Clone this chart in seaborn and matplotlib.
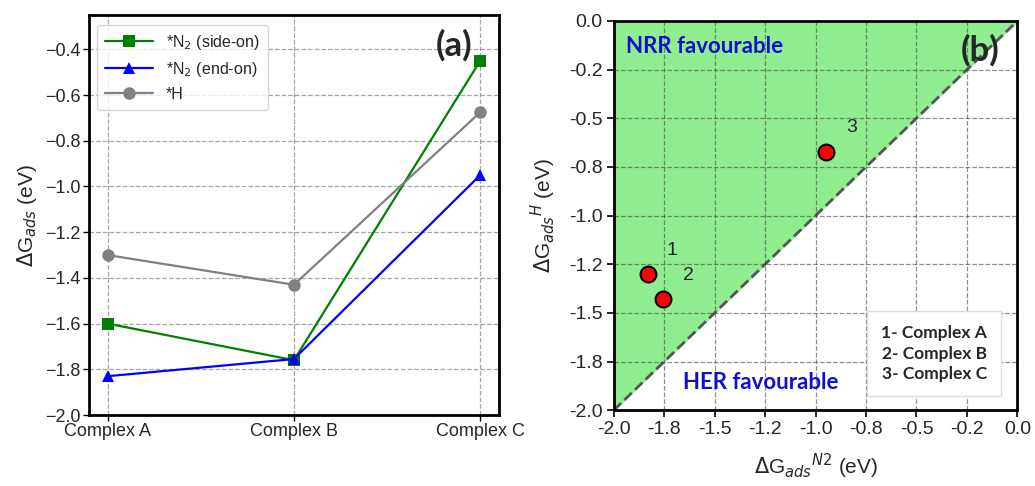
import numpy as np
import pandas as pd
import matplotlib
matplotlib.use("Agg")
import matplotlib.pyplot as plt
import seaborn as sns

# Adsorption free energies (eV) for the three complexes
complexes = ["Complex A", "Complex B", "Complex C"]
n2_side_on = [-1.60, -1.76, -0.45]
n2_end_on = [-1.83, -1.755, -0.95]
h_ads = [-1.30, -1.43, -0.675]

series_names = ["*N$_2$ (side-on)", "*N$_2$ (end-on)", "*H"]
point_labels = ["1", "2", "3"]
legend_lines = ["1- Complex A", "2- Complex B", "3- Complex C"]

sns.set_theme(style="white")
plt.rcParams["font.family"] = ["Liberation Sans", "DejaVu Sans"]
plt.rcParams["mathtext.fontset"] = "dejavusans"

df = pd.DataFrame({
    "complex": complexes * 3,
    "dG": n2_side_on + n2_end_on + h_ads,
    "species": [s for s in series_names for _ in complexes],
})

fig = plt.figure(figsize=(10.35, 4.86), dpi=100)
ax1 = fig.add_axes([0.086, 0.146, 0.396, 0.823])
ax2 = fig.add_axes([0.593, 0.156, 0.390, 0.801])

# ---- (a) adsorption energies per complex ----
palette = {series_names[0]: "green", series_names[1]: "blue", series_names[2]: "grey"}
markers = {series_names[0]: "s", series_names[1]: "^", series_names[2]: "o"}
sns.lineplot(data=df, x="complex", y="dG", hue="species", style="species",
             palette=palette, markers=markers, dashes=False, markersize=9,
             markeredgewidth=0, linewidth=1.6, ax=ax1)
ax1.set_xlim(-0.1, 2.1)
ax1.set_ylim(-2.0, -0.25)
ax1.set_yticks(np.arange(-2.0, -0.39, 0.2))
ax1.yaxis.set_major_formatter(matplotlib.ticker.FuncFormatter(
    lambda v, p: f"{v:.1f}".replace("-", "\u2212")))
ax1.grid(True, linestyle="--", color="grey", alpha=0.7, linewidth=0.9)
ax1.set_axisbelow(True)
ax1.set_xlabel("")
ax1.set_ylabel(r"$\Delta$G$_{ads}$ (eV)", fontsize=15, labelpad=4)
ax1.tick_params(axis="both", labelsize=13, length=4, width=1, bottom=True, left=True,
                color="black", pad=2)
for sp in ax1.spines.values():
    sp.set_linewidth(2.0)
    sp.set_color("black")
leg = ax1.legend(loc="upper left", fontsize=11.5, frameon=True, handlelength=3,
                 borderpad=0.5, labelspacing=0.5, bbox_to_anchor=(0.0, 0.995))
leg.get_frame().set_edgecolor("#cccccc")
ax1.text(0.935, 0.925, "(a)", transform=ax1.transAxes, fontsize=25, fontweight="bold",
         family="Lato", ha="right", va="center")

# ---- (b) NRR vs HER selectivity map ----
diag = np.array([-2.0, 0.0])
ax2.fill_between(diag, diag, 0.0, color="#90ee90", zorder=0)
ax2.plot(diag, diag, linestyle="--", color="#555555", linewidth=2.0, zorder=2)
sns.scatterplot(x=n2_end_on, y=h_ads, color="red", edgecolor="black", linewidth=1.5,
                s=130, zorder=5, ax=ax2, legend=False)
label_xy = [(-1.71, -1.18), (-1.63, -1.31), (-0.82, -0.55)]
for lab, (tx, ty) in zip(point_labels, label_xy):
    ax2.text(tx, ty, lab, fontsize=14, ha="center", va="center", zorder=6)
ax2.set_xlim(-2.0, 0.0)
ax2.set_ylim(-2.0, 0.0)
ticks = np.arange(-2.0, 0.01, 0.25)
ax2.set_xticks(ticks)
ax2.set_yticks(ticks)
fmt = matplotlib.ticker.FuncFormatter(lambda v, p: f"{v:.1f}" if abs(v) > 1e-9 else "0.0")
ax2.xaxis.set_major_formatter(fmt)
ax2.yaxis.set_major_formatter(fmt)
ax2.grid(True, linestyle="--", color="#444444", alpha=0.6, linewidth=0.9, zorder=1)
ax2.set_axisbelow(False)
ax2.set_xlabel(r"$\Delta$G$_{ads}$$^{N2}$ (eV)", fontsize=15, labelpad=10)
ax2.set_ylabel(r"$\Delta$G$_{ads}$$^{H}$ (eV)", fontsize=15, labelpad=8)
ax2.tick_params(axis="both", labelsize=14, length=5, width=1.2, bottom=True, left=True,
                color="black", pad=3)
for sp in ax2.spines.values():
    sp.set_linewidth(2.0)
    sp.set_color("black")
    sp.set_zorder(7)
ax2.text(0.03, 0.935, "NRR favourable", transform=ax2.transAxes, fontsize=16,
         fontweight="bold", family="Lato", color="#1010c8", ha="left", va="center", zorder=6)
ax2.text(0.172, 0.072, "HER favourable", transform=ax2.transAxes, fontsize=16,
         fontweight="bold", family="Lato", color="#1010c8", ha="left", va="center", zorder=6)
ax2.text(0.955, 0.925, "(b)", transform=ax2.transAxes, fontsize=25, fontweight="bold",
         family="Lato", ha="right", va="center", zorder=6)
ax2.text(0.925, 0.145, "\n".join(legend_lines), transform=ax2.transAxes, fontsize=12.5,
         fontweight="bold", family="Lato", ha="right", va="center", linespacing=1.35,
         zorder=6,
         bbox=dict(boxstyle="square,pad=0.8", facecolor="white", edgecolor="#dddddd"))

fig.savefig("out.png", dpi=100)
